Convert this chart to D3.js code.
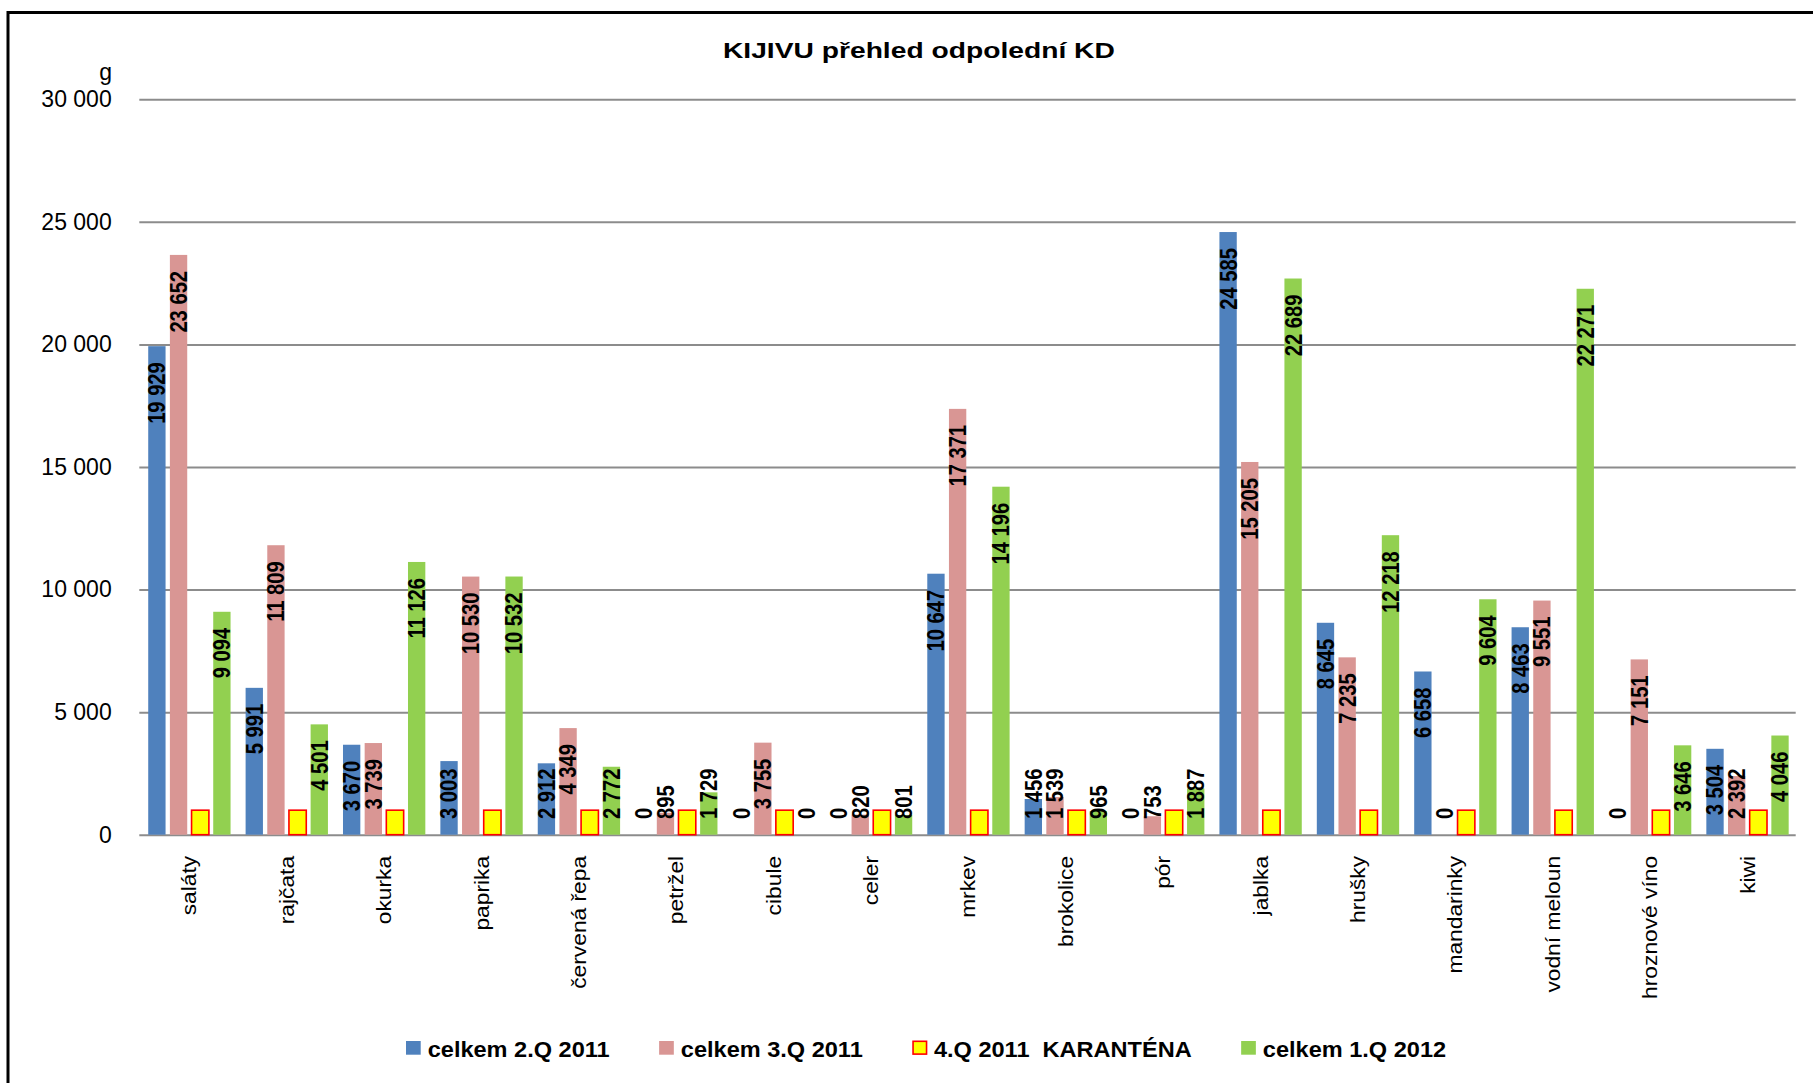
<!DOCTYPE html>
<html><head><meta charset="utf-8">
<script src="https://cdn.jsdelivr.net/npm/d3@7"></script>
<style>
html,body{margin:0;padding:0;background:#fff;overflow:hidden}
text{font-family:"Liberation Sans",Arial,sans-serif}
</style>
</head><body>
<svg id="chart" width="1813" height="1083"></svg>
<script>
const categories = ["saláty","rajčata","okurka","paprika","červená řepa","petržel","cibule","celer","mrkev","brokolice","pór","jablka","hrušky","mandarinky","vodní meloun","hroznové víno","kiwi"];
const q2_2011 = [19929,5991,3670,3003,2912,0,0,0,10647,1456,0,24585,8645,6658,8463,0,3504];
const q3_2011 = [23652,11809,3739,10530,4349,895,3755,820,17371,1539,753,15205,7235,0,9551,7151,2392];
const q4_2011 = [1000,1000,1000,1000,1000,1000,1000,1000,1000,1000,1000,1000,1000,1000,1000,1000,1000];
const q1_2012 = [9094,4501,11126,10532,2772,1729,0,801,14196,965,1887,22689,12218,9604,22271,3646,4046];
const seriesNames = ["celkem 2.Q 2011","celkem 3.Q 2011","4.Q 2011  KARANTÉNA","celkem 1.Q 2012"];
const yTicks = [0,5000,10000,15000,20000,25000,30000];
const titleText = "KIJIVU přehled odpolední KD";
const yUnit = "g";

const series = [q2_2011, q3_2011, q4_2011, q1_2012];
const fills = ["#4F81BD","#D99694","#FFFF00","#92D050"];
const strokes = ["none","none","#FF0000","none"];
const showLabels = [true,true,false,true];

const W = 1813, H = 1083;
const svg = d3.select("#chart");
svg.append("rect").attr("width",W).attr("height",H).attr("fill","#fff");
svg.append("rect").attr("x",8).attr("y",12.5).attr("width",W+40).attr("height",H+40)
  .attr("fill","none").attr("stroke","#000").attr("stroke-width",3);

const plotL = 139.3, plotR = 1795.7, base = 834.7;
const x0 = d3.scaleBand().domain(categories).range([140.7,1796.2]).paddingInner(0.11).paddingOuter(0.055);
const x1 = d3.scaleBand().domain(d3.range(series.length)).range([0,x0.bandwidth()]).paddingInner(0.2).paddingOuter(0.1);
const y = d3.scaleLinear().domain([0,30000]).range([base,99.3]);
const fmt = d3.formatLocale({decimal:",",thousands:" ",grouping:[3],currency:["",""]}).format(",d");

function measure(txt, size, weight){
  const t = svg.append("text").attr("font-size",size).attr("font-weight",weight).style("white-space","pre").text(txt);
  const w = t.node().getComputedTextLength();
  t.remove();
  return w;
}

// gridlines
const grid = svg.append("g").attr("transform",`translate(${plotL},0)`)
  .call(d3.axisLeft(y).tickValues(yTicks).tickSize(-(plotR-plotL)).tickFormat(""));
grid.select(".domain").remove();
grid.selectAll(".tick line").attr("stroke","#8c8c8c").attr("stroke-width",2);

// y axis labels
const yAxis = svg.append("g").attr("transform",`translate(${plotL},0)`)
  .call(d3.axisLeft(y).tickValues(yTicks).tickSize(0).tickPadding(27.6).tickFormat(fmt));
yAxis.select(".domain").remove();
yAxis.attr("font-family",null).attr("font-size",null);
yAxis.selectAll("text").attr("font-size",23).attr("fill","#000");

svg.append("text").attr("x",112).attr("y",80).attr("text-anchor","end")
  .attr("font-size",23).attr("fill","#000").text(yUnit);

// bars
const groups = svg.append("g").selectAll("g").data(categories).join("g")
  .attr("transform",d=>`translate(${x0(d)},0)`);
series.forEach((s,si)=>{
  groups.append("rect")
    .attr("x",x1(si)).attr("width",x1.bandwidth())
    .attr("y",(d,i)=>y(s[i])).attr("height",(d,i)=>base-y(s[i]))
    .attr("fill",fills[si])
    .attr("stroke",strokes[si]).attr("stroke-width",strokes[si]==="none"?0:1.6);
});

// x axis category labels
const catSize = 20;
const catScale = 133 / measure("červená řepa", catSize, "normal");
const xAxis = svg.append("g").attr("transform",`translate(0,${base})`)
  .call(d3.axisBottom(x0).tickSize(0));
xAxis.select(".domain").remove();
xAxis.attr("font-family",null).attr("font-size",null);
xAxis.selectAll("text")
  .attr("font-size",catSize).attr("fill","#000")
  .attr("x",0).attr("y",0).attr("dy","0.35em").attr("dx",3)
  .attr("text-anchor","end")
  .attr("transform",`translate(0,${859.3-base}) rotate(-90) scale(${catScale},1)`);

// data labels
const lblSize = 24;
const lblScale = 61.7 / measure("19 929", lblSize, "bold");
const labelLayer = svg.append("g");
series.forEach((s,si)=>{
  if(!showLabels[si]) return;
  categories.forEach((c,i)=>{
    const cx = x0(c) + x1(si) + x1.bandwidth()/2;
    const t = labelLayer.append("text")
      .attr("font-size",lblSize).attr("font-weight","bold").attr("fill","#000")
      .attr("text-anchor","start").attr("dy","0.35em")
      .text(fmt(s[i]));
    const len = t.node().getComputedTextLength()*lblScale;
    const bottom = Math.min(y(s[i]) + 16 + len, base - 15.7);
    t.attr("transform",`translate(${cx},${bottom}) rotate(-90) scale(${lblScale},1)`);
  });
});

// title
const titleSize = 22.5;
const titleScale = 392 / measure(titleText, titleSize, "bold");
svg.append("text").attr("text-anchor","middle").attr("font-size",titleSize).attr("font-weight","bold")
  .attr("fill","#000")
  .attr("transform",`translate(918.9,58.3) scale(${titleScale},1)`).text(titleText);

// legend
const legSize = 22.3;
const legScale = 182 / measure(seriesNames[0], legSize, "bold");
let lx = 406;
seriesNames.forEach((name,si)=>{
  const g = svg.append("g");
  if(strokes[si]==="none"){
    g.append("rect").attr("x",lx).attr("y",1041).attr("width",14.7).attr("height",13.7).attr("fill",fills[si]);
  } else {
    g.append("rect").attr("x",lx+0.8).attr("y",1041.3).attr("width",13.5).attr("height",12.8)
      .attr("fill",fills[si]).attr("stroke",strokes[si]).attr("stroke-width",1.6);
  }
  const tx = lx + 21.7;
  const t = g.append("text").attr("font-size",legSize).attr("font-weight","bold").attr("fill","#000")
    .style("white-space","pre")
    .attr("transform",`translate(${tx},1056.7) scale(${legScale},1)`).text(name);
  const w = t.node().getComputedTextLength()*legScale;
  lx = tx + w + 49.5;
});
</script>
</body></html>
